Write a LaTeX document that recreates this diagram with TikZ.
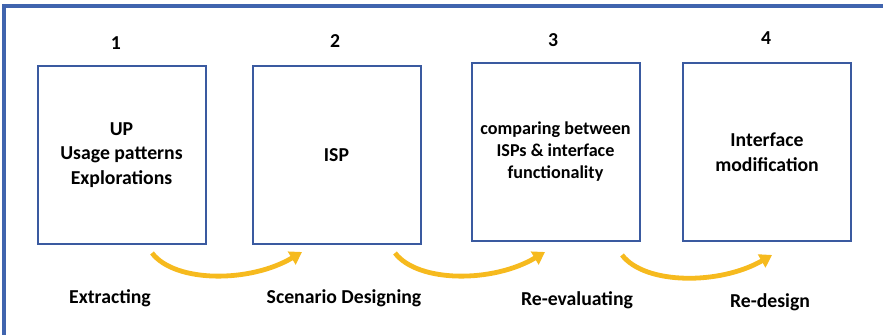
\documentclass[tikz,border=0pt]{standalone}
\usepackage{fontspec}
\setmainfont{Carlito}
\usetikzlibrary{arrows.meta}
\definecolor{boxblue}{RGB}{58,90,160}
\definecolor{frameblue}{RGB}{64,100,174}
\definecolor{gold}{RGB}{246,186,30}
\tikzset{
  stepbox/.style={draw=boxblue,line width=1.5pt,minimum width=126pt,minimum height=133pt,inner sep=0pt,align=center,font=\bfseries\fontsize{14.8}{18.4}\selectfont},
  lbl/.style={font=\bfseries\fontsize{14.8}{17}\selectfont,inner sep=0pt},
  curvearrow/.style={draw=gold,line width=3.6pt,-{Triangle[length=9pt,width=11pt]}}
}
\begin{document}
\begin{tikzpicture}[x=0.75pt,y=-0.75pt]
\useasboundingbox (0,0) rectangle (883,335);
\begin{scope}
\clip (0,0) rectangle (883,335);
\draw[frameblue,line width=2.4pt] (4,400) -- (4,6) -- (900,6);
\end{scope}
\node[stepbox] (b1) at (121.5,155) {UP\\Usage patterns\\Explorations};
\node[stepbox] (b2) at (336.5,155) {ISP};
\node[stepbox,font=\bfseries\fontsize{13.6}{16.5}\selectfont] (b3) at (555.5,152) {comparing between\\ISPs \& interface\\functionality};
\node[stepbox] (b4) at (767,152) {Interface\\modification};
\node[lbl] (n1) at (116,43) {1};
\node[lbl] (n2) at (335,41) {2};
\node[lbl] (n3) at (553,40) {3};
\node[lbl] (n4) at (766,38) {4};
\node[lbl] (l1) at (110,298) {Extracting};
\node[lbl] (l2) at (344,298) {Scenario Designing};
\node[lbl] (l3) at (577,300) {Re-evaluating};
\node[lbl] (l4) at (770,302) {Re-design};
\coordinate (a1s) at (152,253); \coordinate (a1e) at (302,252);
\coordinate (a2s) at (395,253); \coordinate (a2e) at (545,252);
\coordinate (a3s) at (622,255); \coordinate (a3e) at (772,255);
\draw[curvearrow] (a1s) .. controls (175,283) and (250,283) .. (a1e);
\draw[curvearrow] (a2s) .. controls (418,283) and (493,283) .. (a2e);
\draw[curvearrow] (a3s) .. controls (645,285) and (720,285) .. (a3e);
\end{tikzpicture}
\end{document}
